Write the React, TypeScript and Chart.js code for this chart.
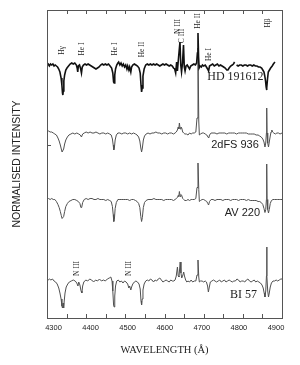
import React, { useEffect, useRef } from 'react';
import { Chart, registerables } from 'chart.js';

Chart.register(...registerables);

// ---- spectra: [wavelength (Å), normalised flux] ----
const hdSpectrum: [number, number | null][] = [
  [4300,1.00],[4303,1.01],[4306,0.99],[4309,1.01],[4312,1.00],[4315,1.01],[4318,0.99],[4321,1.00],[4324,0.99],[4327,0.98],
  [4330,0.96],[4333,0.93],[4336,0.87],[4338,0.80],[4339.5,0.72],[4340.5,0.70],[4341.5,0.74],[4343,0.84],[4345,0.90],[4348,0.95],
  [4351,0.97],[4355,0.99],[4359,1.01],[4363,1.02],[4367,1.01],[4371,1.02],[4375,1.00],[4377,0.97],[4378.5,0.93],[4380,0.99],
  [4383,1.00],[4386,0.96],[4388,0.92],[4390,0.98],[4393,1.00],[4397,1.01],[4401,1.00],[4405,1.01],[4409,1.00],[4413,0.99],
  [4417,0.98],[4421,0.97],[4425,0.96],[4429,0.97],[4433,0.98],[4437,1.00],[4441,1.01],[4445,1.00],[4449,1.01],[4453,1.00],
  [4457,1.01],[4461,0.99],[4465,0.97],[4468,0.92],[4470,0.83],[4471.5,0.82],[4473,0.90],[4475,0.96],[4478,1.00],[4481,1.02],
  [4483,1.03],[4486,1.00],[4489,1.02],[4492,0.99],[4495,1.01],[4498,0.98],[4501,1.00],[4504,0.96],[4506,0.99],[4509,0.95],
  [4511,0.98],[4514,0.93],[4516,0.98],[4519,1.00],[4523,1.01],[4527,1.00],[4531,0.99],[4535,0.97],[4538,0.92],[4540,0.80],
  [4541.5,0.73],[4543,0.77],[4545,0.89],[4548,0.96],[4552,1.00],[4556,1.01],[4560,1.00],[4564,1.01],[4568,1.00],[4572,1.01],
  [4576,1.00],[4580,1.01],[4584,1.00],[4588,0.99],[4592,1.00],[4596,1.01],[4600,1.00],[4604,1.01],[4608,1.00],[4612,0.99],
  [4616,1.00],[4620,0.99],[4623,0.97],[4626,0.96],[4628.5,0.92],[4631,1.03],[4633,0.94],[4636,1.08],[4639.5,1.23],[4641.5,1.00],
  [4643.5,0.93],[4646,1.02],[4648.5,1.20],[4650.5,0.98],[4652.5,0.94],[4655,0.99],[4658,1.00],[4661,0.98],[4664,0.96],[4667,0.99],
  [4671,1.00],[4675,1.01],[4679,1.00],[4682,1.02],[4684,1.12],[4685.5,1.32],[4687,1.08],[4688.5,0.97],[4691,0.99],[4694,0.98],
  [4697,1.00],[4700,0.99],[4704,1.00],[4707,0.98],[4710,0.96],[4712.5,0.94],[4715,0.99],[4719,1.00],[4723,1.01],[4727,0.99],
  [4731,1.00],[4735,1.01],[4739,0.99],[4743,1.00],[4747,0.99],[4751,0.98],[4755,0.97],[4759,0.95],[4762,0.95],[4765,0.97],
  [4769,0.99],[4773,1.00],[4776,1.01],[4779,1.03],[4781,null],[4784,1.00],[4788,0.99],[4792,1.00],[4796,1.00],[4800,0.99],
  [4804,1.00],[4808,1.00],[4812,0.99],[4816,1.00],[4820,1.00],[4824,0.99],[4828,1.00],[4832,0.99],[4836,0.99],[4840,0.98],
  [4844,0.98],[4848,0.97],[4851,0.95],[4854,0.93],[4856,0.89],[4858,0.84],[4859.5,0.78],[4860.5,0.75],[4861.5,0.77],[4863,0.86],
  [4865,0.93],[4868,0.95],[4871,0.97],[4875,0.99],[4878,1.01],[4882,1.03],
];

const dfsSpectrum: [number, number][] = [
  [4300,1.02],[4304,1.02],[4308,1.01],[4312,1.01],[4316,1.00],[4320,0.99],[4324,0.98],[4328,0.95],[4331,0.92],[4334,0.88],
  [4336.5,0.84],[4338.5,0.81],[4340.5,0.81],[4342.5,0.84],[4345,0.89],[4348,0.93],[4352,0.96],[4356,0.98],[4361,0.99],[4366,1.00],
  [4371,0.99],[4376,1.00],[4381,0.99],[4385,0.98],[4388,0.96],[4391,0.99],[4395,1.00],[4400,1.01],[4405,1.00],[4410,1.01],
  [4415,1.00],[4420,1.00],[4425,1.01],[4430,1.00],[4435,0.99],[4440,1.00],[4445,1.00],[4450,0.99],[4455,1.00],[4460,0.99],
  [4464,0.98],[4467,0.94],[4469,0.88],[4470.5,0.83],[4472,0.85],[4474,0.93],[4477,0.98],[4481,1.00],[4486,1.00],[4491,0.99],
  [4496,1.00],[4501,1.00],[4506,0.99],[4511,1.00],[4516,0.99],[4521,1.00],[4526,0.99],[4530,0.98],[4534,0.96],[4537,0.92],
  [4539.5,0.85],[4541.5,0.81],[4543.5,0.85],[4546,0.93],[4549,0.97],[4553,0.99],[4558,1.00],[4563,0.99],[4568,1.00],[4573,1.00],
  [4578,1.01],[4583,1.00],[4588,1.00],[4593,0.99],[4598,1.00],[4603,1.00],[4608,0.99],[4613,1.00],[4618,1.00],[4623,0.99],
  [4627,1.00],[4630,1.01],[4633,1.03],[4635,1.06],[4636.5,1.04],[4638,1.10],[4640,1.04],[4642,1.06],[4644,1.05],[4646.5,1.01],
  [4649,1.00],[4652,0.99],[4656,0.99],[4660,0.98],[4664,1.00],[4668,0.99],[4672,1.00],[4676,1.00],[4680,1.01],[4683,1.15],
  [4685.5,1.85],[4687.5,1.12],[4689,0.98],[4692,0.99],[4696,1.00],[4700,1.00],[4704,0.99],[4708,0.98],[4711,0.96],[4713,0.95],
  [4715,0.98],[4719,1.00],[4724,1.00],[4729,1.00],[4734,0.99],[4739,1.00],[4744,1.00],[4749,1.00],[4754,1.00],[4759,0.99],
  [4764,1.00],[4769,1.00],[4774,1.00],[4779,1.00],[4784,0.99],[4789,1.00],[4794,1.00],[4799,1.00],[4804,1.00],[4809,1.00],
  [4814,0.99],[4819,0.99],[4824,0.99],[4829,0.99],[4834,0.98],[4839,0.98],[4843,0.97],[4847,0.96],[4851,0.94],[4854,0.91],
  [4856.5,0.86],[4858.5,0.90],[4860.2,1.00],[4861,1.25],[4861.8,1.00],[4863.5,0.90],[4865.5,0.86],[4867.5,0.91],[4870,0.97],[4872,1.01],
  [4874,1.03],[4876,1.01],[4879,1.00],[4883,0.99],[4887,1.00],[4891,1.00],[4895,0.99],[4900,1.00],
];

const avSpectrum: [number, number][] = [
  [4300,1.00],[4304,1.01],[4308,1.00],[4312,1.01],[4316,1.00],[4320,1.00],[4324,0.98],[4328,0.95],[4331,0.92],[4334,0.88],
  [4336.5,0.84],[4338.5,0.81],[4340.5,0.81],[4342.5,0.83],[4345,0.88],[4348,0.93],[4352,0.96],[4356,0.98],[4361,0.99],[4366,1.00],
  [4371,1.00],[4376,0.99],[4380,0.98],[4384,0.96],[4386.5,0.92],[4388.5,0.92],[4391,0.97],[4395,1.00],[4400,1.01],[4405,1.00],
  [4410,1.01],[4415,1.01],[4420,1.00],[4425,1.00],[4430,1.01],[4435,1.00],[4440,1.00],[4445,1.00],[4450,0.99],[4455,1.00],
  [4460,0.99],[4464,0.98],[4467,0.93],[4469,0.85],[4470.5,0.78],[4472,0.80],[4474,0.91],[4477,0.97],[4481,1.00],[4486,1.00],
  [4491,1.00],[4496,1.00],[4501,1.00],[4506,1.00],[4511,0.99],[4516,1.00],[4521,1.00],[4526,0.99],[4530,0.98],[4534,0.96],
  [4537,0.92],[4539.5,0.83],[4541.5,0.78],[4543.5,0.82],[4546,0.92],[4549,0.97],[4553,0.99],[4558,1.00],[4563,1.00],[4568,1.00],
  [4573,1.01],[4578,1.00],[4583,1.00],[4588,1.00],[4593,1.00],[4598,0.99],[4603,1.00],[4608,1.00],[4613,1.00],[4618,1.00],
  [4623,0.99],[4627,1.00],[4630,1.01],[4633,1.02],[4635,1.04],[4636.5,1.03],[4638,1.08],[4640,1.03],[4642,1.05],[4644,1.04],
  [4646.5,1.01],[4649,1.00],[4652,0.99],[4656,0.99],[4660,1.00],[4664,0.99],[4668,1.00],[4672,1.00],[4676,1.00],[4680,1.01],
  [4683,1.12],[4685.5,1.365],[4687.5,1.10],[4689,0.98],[4692,0.99],[4696,1.00],[4700,1.00],[4704,0.99],[4708,0.98],[4710.5,0.96],
  [4712.5,0.945],[4715,0.98],[4719,1.00],[4724,1.00],[4729,0.99],[4734,1.00],[4739,1.00],[4744,1.00],[4749,0.99],[4754,1.00],
  [4759,1.00],[4764,1.00],[4769,0.99],[4774,1.00],[4779,1.00],[4784,1.00],[4789,0.99],[4794,1.00],[4799,1.00],[4804,1.00],
  [4809,0.99],[4814,1.00],[4819,0.99],[4824,0.99],[4829,0.99],[4834,0.99],[4839,0.98],[4843,0.98],[4847,0.97],[4851,0.95],
  [4854,0.91],[4856.5,0.87],[4858.5,0.90],[4860.2,1.00],[4861,1.355],[4861.8,1.00],[4863.5,0.90],[4865.5,0.865],[4867.5,0.90],[4870,0.96],
  [4873,0.99],[4877,1.00],[4881,1.00],[4885,1.00],[4889,1.00],[4893,1.00],[4897,1.00],[4900,1.00],
];

const biSpectrum: [number, number][] = [
  [4300,1.01],[4303,1.01],[4306,1.02],[4310,1.01],[4314,1.02],[4318,1.00],[4322,0.99],[4326,0.97],[4330,0.93],[4333,0.88],
  [4336,0.82],[4338,0.75],[4339.5,0.73],[4341,0.78],[4342.5,0.73],[4344,0.80],[4346,0.88],[4349,0.94],[4353,0.97],[4357,0.99],
  [4362,1.00],[4367,1.01],[4372,1.00],[4376,0.98],[4379,0.95],[4381,0.99],[4384,0.96],[4387,0.90],[4389,0.88],[4391,0.95],
  [4394,0.99],[4399,1.01],[4404,1.00],[4409,1.02],[4414,1.01],[4419,0.99],[4424,1.01],[4429,1.00],[4434,1.02],[4439,1.00],
  [4444,1.01],[4449,1.00],[4454,1.02],[4459,1.03],[4463,1.04],[4466,1.00],[4468,0.90],[4470,0.76],[4471.5,0.74],[4473,0.85],
  [4475,0.95],[4478,1.00],[4482,1.01],[4486,0.99],[4490,1.00],[4494,0.98],[4498,1.00],[4502,0.99],[4506,0.97],[4509,0.93],
  [4511,0.95],[4514,0.91],[4516,0.94],[4519,0.97],[4523,0.99],[4527,1.00],[4531,0.99],[4535,0.97],[4538,0.92],[4540,0.80],
  [4541.5,0.76],[4543,0.82],[4545,0.91],[4548,0.97],[4552,1.00],[4556,1.01],[4560,1.00],[4564,1.02],[4568,1.01],[4572,0.99],
  [4576,1.01],[4580,1.00],[4584,1.02],[4588,1.03],[4592,1.01],[4596,0.99],[4600,1.00],[4604,1.01],[4608,1.00],[4612,0.99],
  [4616,1.01],[4620,1.00],[4624,1.00],[4627,1.01],[4630,1.05],[4633,1.14],[4635,1.05],[4637,1.04],[4640,1.19],[4642,1.08],
  [4644,1.03],[4647,1.06],[4649,1.09],[4651,1.05],[4654,1.01],[4657,0.99],[4660,1.00],[4664,0.99],[4668,1.01],[4672,0.99],
  [4676,1.00],[4680,1.00],[4683,1.06],[4685.5,1.21],[4687.5,1.04],[4689,0.99],[4692,1.00],[4696,1.00],[4700,0.99],[4704,1.00],
  [4707,0.99],[4710,0.95],[4712,0.89],[4714,0.93],[4717,0.99],[4721,1.00],[4725,1.01],[4729,1.00],[4733,0.99],[4737,1.00],
  [4741,1.01],[4745,0.99],[4749,1.00],[4753,1.01],[4757,0.99],[4761,1.00],[4765,1.01],[4769,1.00],[4773,0.99],[4777,1.00],
  [4781,1.00],[4785,1.02],[4789,1.01],[4793,0.99],[4797,1.00],[4801,1.00],[4805,0.99],[4809,1.01],[4813,1.02],[4817,1.00],
  [4821,0.99],[4825,1.00],[4829,1.01],[4833,0.99],[4837,1.00],[4841,0.99],[4845,0.98],[4849,0.96],[4852,0.93],[4854.5,0.88],
  [4856.5,0.84],[4858.5,0.90],[4860.3,1.05],[4861,1.34],[4861.7,1.05],[4863.5,0.90],[4865.5,0.84],[4867.5,0.88],[4870,0.94],[4873,0.98],
  [4877,1.00],[4881,1.00],[4885,1.01],[4889,1.00],[4893,1.01],[4897,1.02],[4900,1.02],
];

// vertical offsets of each spectrum
const spectrumOffsets = [1.53, 0.85, 0.185, -0.63];

// star names and where they are written
const starNames = ['HD 191612', '2dFS 936', 'AV 220', 'BI 57'];
const starNameWave = [4781, 4780, 4799, 4802];
const starNameLevel = [2.41, 1.73, 1.05, 0.23];

// line identifications
const lineIds = ['Hγ', 'He I', 'He I', 'He II', 'N III', 'C III', 'He II', 'He I', 'Hβ', 'N III', 'N III'];
const lineIdWave = [4339.6, 4389, 4473.6, 4542.5, 4634.4, 4646, 4686.8, 4713.6, 4864, 4377, 4510.6];
const lineIdLevel = [2.675, 2.69, 2.69, 2.685, 2.915, 2.82, 2.97, 2.635, 2.95, 0.495, 0.495];

// axis ticks
const xTickLabels = [4300, 4400, 4500, 4600, 4700, 4800, 4900];
const xTickMarks = [4300, 4350, 4400, 4450, 4500, 4550, 4600, 4650, 4700, 4750, 4800, 4850, 4900];
const yTickMarks = [1.73];

const SERIF = '"Liberation Serif", "DejaVu Serif", serif';
const SANS = '"Liberation Sans", "DejaVu Sans", sans-serif';

const decorPlugin = {
  id: 'decor',
  afterDatasetsDraw(chart: any) {
    const { ctx, chartArea: a, scales } = chart;
    const xs = scales.x;
    const ys = scales.y;
    ctx.save();
    ctx.strokeStyle = '#555';
    ctx.lineWidth = 1;
    ctx.strokeRect(a.left + 0.5, a.top + 0.5, a.right - a.left, a.bottom - a.top);
    ctx.beginPath();
    xTickMarks.forEach((v) => {
      const px = Math.round(xs.getPixelForValue(v)) + 0.5;
      ctx.moveTo(px, a.top);
      ctx.lineTo(px, a.top + 4);
      ctx.moveTo(px, a.bottom);
      ctx.lineTo(px, a.bottom - 4);
    });
    yTickMarks.forEach((v) => {
      const py = Math.round(ys.getPixelForValue(v)) + 0.5;
      ctx.moveTo(a.left, py);
      ctx.lineTo(a.left + 4, py);
    });
    ctx.stroke();

    // star names
    ctx.fillStyle = '#222';
    ctx.textAlign = 'center';
    ctx.textBaseline = 'middle';
    starNames.forEach((name, i) => {
      const px = xs.getPixelForValue(starNameWave[i]);
      const py = ys.getPixelForValue(starNameLevel[i]);
      const serif = i === 0 || i === 3;
      ctx.font = serif ? `12px ${SERIF}` : `11px ${SANS}`;
      ctx.fillText(name, px, py);
    });

    // line identifications (rotated)
    ctx.font = `7.5px ${SERIF}`;
    lineIds.forEach((t, i) => {
      const px = xs.getPixelForValue(lineIdWave[i]);
      const py = ys.getPixelForValue(lineIdLevel[i]);
      ctx.save();
      ctx.translate(px, py);
      ctx.rotate(-Math.PI / 2);
      ctx.fillText(t, 0, 0);
      ctx.restore();
    });
    ctx.restore();
  },
};

function toPoints(spec: [number, number | null][], offset: number) {
  return spec.map(([w, f]) => ({ x: w, y: f === null ? null : f + offset }));
}

export default function App() {
  const canvasRef = useRef<HTMLCanvasElement | null>(null);

  useEffect(() => {
    const canvas = canvasRef.current;
    if (!canvas) return;
    const spectra = [hdSpectrum, dfsSpectrum, avSpectrum, biSpectrum];
    const datasets = spectra.map((spec, i) => ({
      label: starNames[i],
      data: toPoints(spec as [number, number | null][], spectrumOffsets[i]),
      borderColor: i === 0 ? '#111' : '#505050',
      borderWidth: i === 0 ? 1.6 : 1,
      pointRadius: 0,
      tension: 0,
      spanGaps: false,
      fill: false,
    }));

    const chart = new Chart(canvas, {
      type: 'line',
      data: { datasets },
      plugins: [decorPlugin],
      options: {
        animation: false,
        responsive: false,
        maintainAspectRatio: false,
        events: [],
        layout: { padding: { top: 10, right: 18, left: 0, bottom: 0 } },
        plugins: { legend: { display: false }, tooltip: { enabled: false }, title: { display: false } },
        scales: {
          x: { type: 'linear', min: 4300, max: 4900, display: false },
          xl: {
            type: 'linear',
            position: 'bottom',
            min: 4282.5,
            max: 4916.2,
            afterBuildTicks: (s: any) => {
              s.ticks = xTickLabels.map((v) => ({ value: v }));
            },
            afterFit: (s: any) => {
              s.height = 47;
            },
            grid: { display: false, drawTicks: false },
            border: { display: false },
            ticks: {
              autoSkip: false,
              maxRotation: 0,
              padding: 5,
              color: '#222',
              font: { family: SANS, size: 7.5 },
              callback: (v: any) => String(v),
            },
            title: {
              display: true,
              text: 'WAVELENGTH (Å)',
              color: '#222',
              font: { family: SERIF, size: 10.5 },
              padding: { top: 0, bottom: 8 },
            },
          },
          y: {
            type: 'linear',
            position: 'left',
            min: 0,
            max: 3.08,
            afterFit: (s: any) => {
              s.width = 47;
            },
            grid: { display: false, drawTicks: false },
            border: { display: false },
            ticks: { display: false },
            title: {
              display: true,
              text: 'NORMALISED INTENSITY',
              color: '#222',
              font: { family: SANS, size: 10.5 },
              padding: { top: 10.7, bottom: 0 },
            },
          },
        },
      } as any,
    });
    return () => chart.destroy();
  }, []);

  return (
    <div style={{ position: 'fixed', left: 0, top: 0, width: 300, height: 365, background: '#fff' }}>
      <canvas ref={canvasRef} width={300} height={365} style={{ width: 300, height: 365, display: 'block' }} />
    </div>
  );
}
